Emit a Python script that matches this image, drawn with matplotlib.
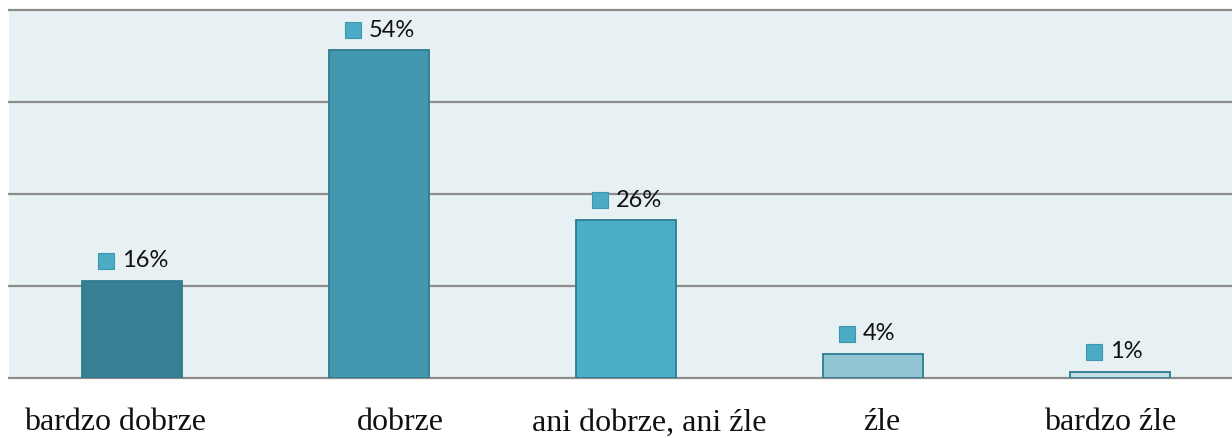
#!/usr/bin/env python
import numpy
import matplotlib
matplotlib.use('Agg')
import matplotlib.pyplot as plt
from matplotlib.transforms import ScaledTranslation

categories = ['bardzo dobrze', 'dobrze', 'ani dobrze, ani źle', 'źle', 'bardzo źle']
values = [16, 54, 26, 4, 1]
value_labels = ['16%', '54%', '26%', '4%', '1%']

bar_colors = ['#377f92', '#4398b0', '#4aaec6', '#93c4d4', '#c4dfe8']
label_shift = [-0.07, 0.087, 0.095, 0.034, -0.043]

fig = plt.figure(figsize=(12.32, 4.38), dpi=100)
ax = fig.add_axes([8.5 / 1232, 60 / 438, 1235.5 / 1232, 368 / 438])
ax.set_facecolor('#e7f0f3')

ymax = 60.6
grid_step = ymax / 4
for k in range(5):
    ax.axhline(k * grid_step, color='#8c8c8c', linewidth=1.6, zorder=1,
               clip_on=False)

x = numpy.arange(len(categories))
ax.bar(x, values, width=0.405, color=bar_colors, edgecolor='#2f7b8f',
       linewidth=1.3, zorder=2)

ax.set_xlim(-0.5, 4.5)
ax.set_ylim(0, ymax)
for s in ax.spines.values():
    s.set_visible(False)
ax.set_xticks([])
ax.set_yticks([])

up = ScaledTranslation(0, 14.4 / 72, fig.dpi_scale_trans)
for i, v in enumerate(values):
    # square marker + percentage above each bar
    ax.plot(x[i] - 0.107, v, marker='s', markersize=12, color='#4bacc6',
            markeredgecolor='#3f97ad', markeredgewidth=0.8,
            transform=ax.transData + up, clip_on=False, zorder=3)
    ax.text(x[i] - 0.042, v, value_labels[i], transform=ax.transData + up,
            ha='left', va='center', fontsize=17, family='Lato',
            color='#111111')
    ax.text(x[i] + label_shift[i], -52.5 / 368 * ymax, categories[i],
            ha='center', va='baseline', fontsize=23,
            family='Liberation Serif', color='#111111', clip_on=False)

fig.savefig('out.png', dpi=100)
